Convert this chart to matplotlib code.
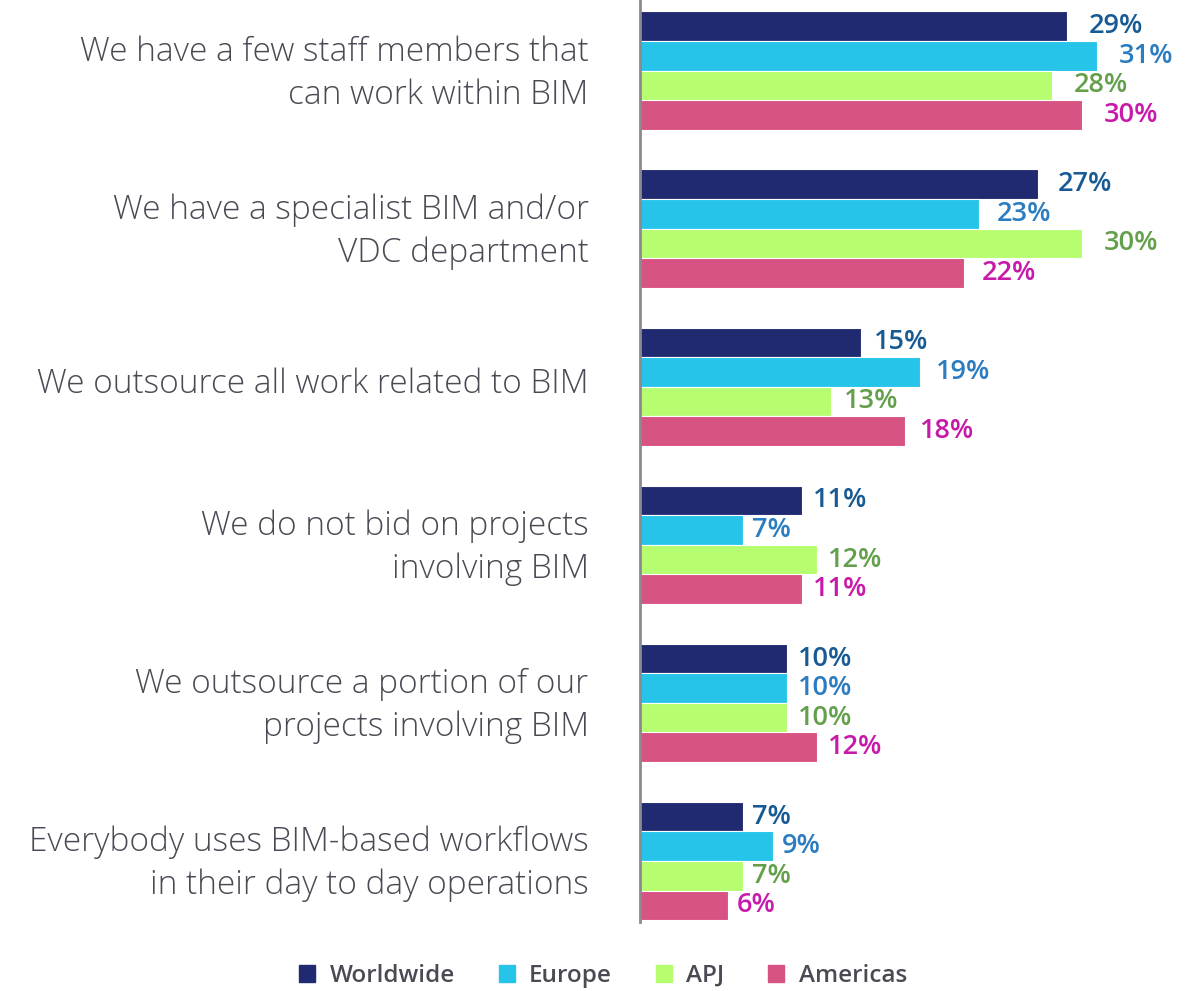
import matplotlib.pyplot as plt
import matplotlib.transforms as mtransforms
from matplotlib.patches import Rectangle

categories = [
    "We have a few staff members that\ncan work within BIM",
    "We have a specialist BIM and/or\nVDC department",
    "We outsource all work related to BIM",
    "We do not bid on projects\ninvolving BIM",
    "We outsource a portion of our\nprojects involving BIM",
    "Everybody uses BIM-based workflows\nin their day to day operations",
]
series = ["Worldwide", "Europe", "APJ", "Americas"]
worldwide = [29, 27, 15, 11, 10, 7]
europe = [31, 23, 19, 7, 10, 9]
apj = [28, 30, 13, 12, 10, 7]
americas = [30, 22, 18, 11, 12, 6]

bar_colors = ["#1f2a70", "#26c4e9", "#b6fe70", "#d75383"]
text_colors = ["#175a94", "#2b7cc0", "#64a04c", "#c81aaa"]

fig = plt.figure(figsize=(11.93, 9.91), dpi=100)
ax = fig.add_axes([640 / 1193, 1 - 922 / 991, 545 / 1193, 922 / 991])

h = 0.187
values = [worldwide, europe, apj, americas]
for k, vals in enumerate(values):
    ys = [i - 1.5 * h + k * h for i in range(len(categories))]
    ax.barh(ys, vals, height=h, color=bar_colors[k], edgecolor="white", linewidth=0.8)
    for y, v in zip(ys, vals):
        ax.text(v * 1.04 + 0.3, y, f"{v}%", va="center", ha="left",
                fontsize=19.5, fontweight="semibold", color=text_colors[k],
                family="Open Sans")

ax.set_xlim(0, 37)
ax.set_ylim(5.386, -0.446)
ax.set_yticks(range(len(categories)))
ax.set_yticklabels(categories, fontsize=24, color="#4a4a55", family="Open Sans",
                   fontweight="light", linespacing=1.38)
ax.tick_params(axis="y", length=0, pad=37)
# nudge the category labels up a little so they sit on the group centre
shift = mtransforms.ScaledTranslation(0, 6 / 100, fig.dpi_scale_trans)
for lbl in ax.get_yticklabels():
    lbl.set_transform(lbl.get_transform() + shift)
ax.set_xticks([])
for s in ["top", "right", "bottom"]:
    ax.spines[s].set_visible(False)
ax.spines["left"].set_color("#8a8a8f")
ax.spines["left"].set_linewidth(2)

handles = [Rectangle((0, 0), 1, 1, color=c) for c in bar_colors]
fig.legend(handles, series, loc="lower center", bbox_to_anchor=(0.5055, -0.019), ncol=4,
           frameon=False, prop={"family": "Open Sans", "weight": "semibold", "size": 17.5},
           labelcolor="#4a4a55", handlelength=0.65, handleheight=0.75, columnspacing=1.8,
           handletextpad=0.6)

fig.savefig("out.png", dpi=100)
